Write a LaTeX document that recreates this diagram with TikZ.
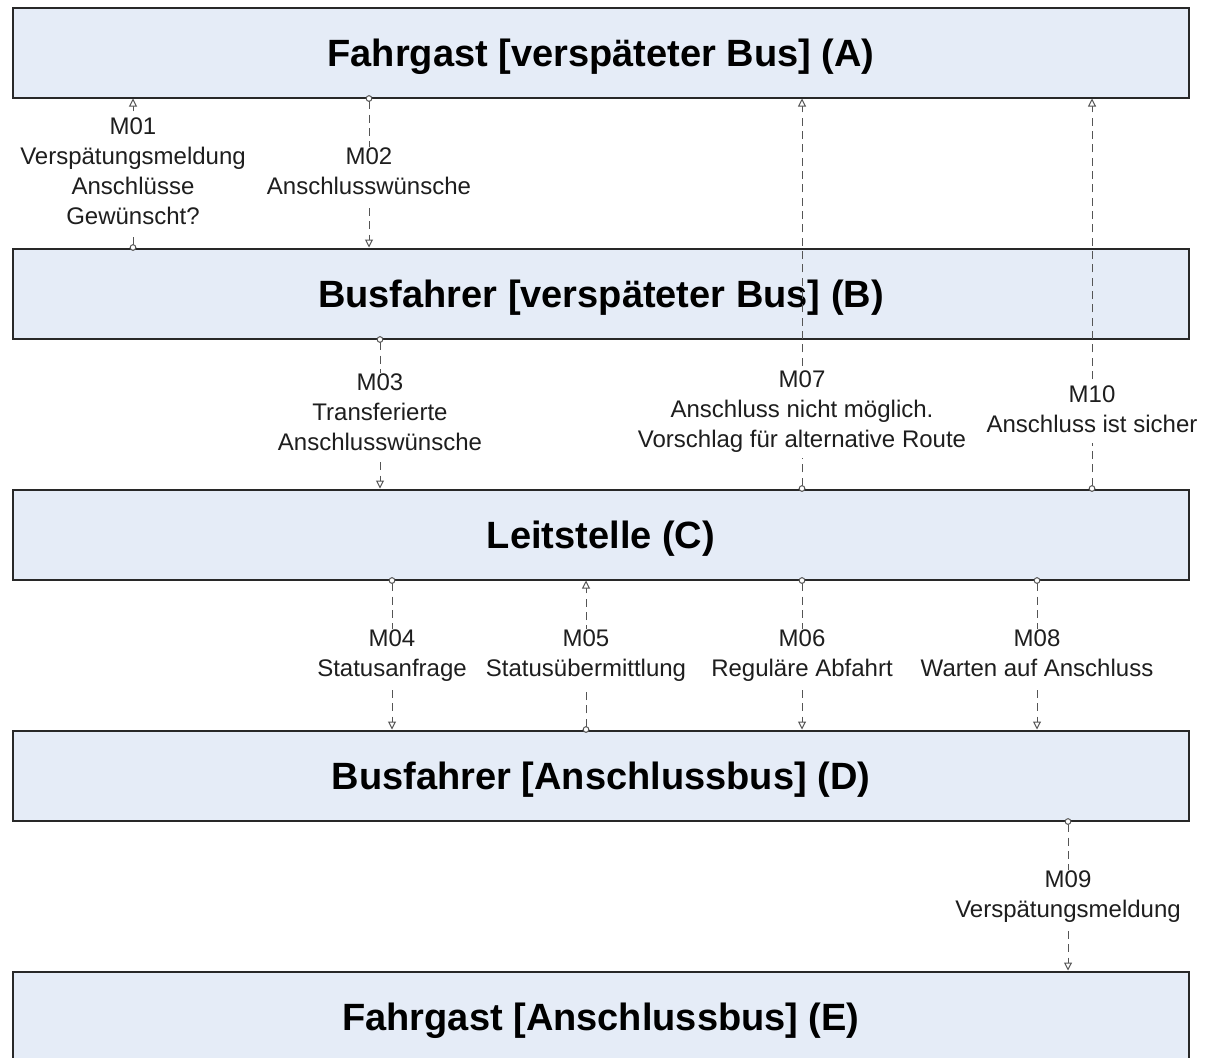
\documentclass[tikz,border=0pt]{standalone}
\usepackage{fontspec}
\setmainfont{Liberation Sans}
\usetikzlibrary{arrows.meta,positioning}
\definecolor{boxfill}{HTML}{E5ECF7}
\definecolor{boxline}{HTML}{282828}
\definecolor{msgline}{HTML}{555555}
\definecolor{msgtext}{HTML}{1E1E1E}

\begin{document}
\begin{tikzpicture}[x=0.75pt,y=-0.75pt,node distance=111.75pt,
	box/.style={draw=boxline,fill=boxfill,line width=1.5pt,minimum width=882pt,minimum height=67.5pt,
		inner sep=0pt,text depth=0pt,font=\fontsize{28.5}{34}\selectfont\bfseries},
	msg/.style={draw=msgline,line width=0.75pt,dash pattern=on 6pt off 4pt,shorten <=-2.5pt,
		{Circle[open,length=5pt,fill=white]}-{Triangle[open,length=6pt,width=6pt,fill=white]}},
	lbl/.style={fill=white,inner sep=1pt,align=center,text=msgtext,font=\fontsize{18}{22.5}\selectfont,
		yshift=-2.25pt,execute at begin node=\strut,execute at end node=\strut}]

\useasboundingbox (0,0) rectangle (1209,1057);

\node[box]   (A)   at (601,52.5)   {Fahrgast [verspäteter Bus] (A)};
\node[box]   (B)   [below=of A]    {Busfahrer [verspäteter Bus] (B)};
\node[box]   (C)   [below=of B]    {Leitstelle (C)};
\node[box]   (D)   [below=of C]    {Busfahrer [Anschlussbus] (D)};
\node[box]   (E)   [below=of D]    {Fahrgast [Anschlussbus] (E)};

\coordinate (m01) at (133,0);
\coordinate (m02) at (369,0);
\coordinate (m03) at (380,0);
\coordinate (m04) at (392,0);
\coordinate (m05) at (586,0);
\coordinate (m06) at (802,0);
\coordinate (m07) at (802,0);
\coordinate (m08) at (1037,0);
\coordinate (m09) at (1068,0);
\coordinate (m10) at (1092,0);

	\draw[msg] (B.north -| m01) -- node[lbl]{M01\\Verspätungsmeldung\\Anschlüsse\\Gewünscht?} (A.south -| m01);
	\draw[msg] (A.south -| m02) -- node[lbl]{M02\\Anschlusswünsche} (B.north -| m02);
	\draw[msg] (B.south -| m03) -- node[lbl]{M03\\Transferierte\\Anschlusswünsche} (C.north -| m03);
	\draw[msg] (C.south -| m04) -- node[lbl]{M04\\Statusanfrage} (D.north -| m04);
	\draw[msg] (D.north -| m05) -- node[lbl]{M05\\Statusübermittlung} (C.south -| m05);
	\draw[msg] (C.south -| m06) -- node[lbl]{M06\\Reguläre Abfahrt} (D.north -| m06);
	\draw[msg] (C.north -| m07) -- node[lbl,pos=0.2]{M07\\Anschluss nicht möglich.\\Vorschlag für alternative Route} (A.south -| m07);
	\draw[msg] (C.south -| m08) -- node[lbl]{M08\\Warten auf Anschluss} (D.north -| m08);
	\draw[msg] (D.south -| m09) -- node[lbl]{M09\\Verspätungsmeldung} (E.north -| m09);
	\draw[msg] (C.north -| m10) -- node[lbl,pos=0.2]{M10\\Anschluss ist sicher} (A.south -| m10);

\end{tikzpicture}
\end{document}
